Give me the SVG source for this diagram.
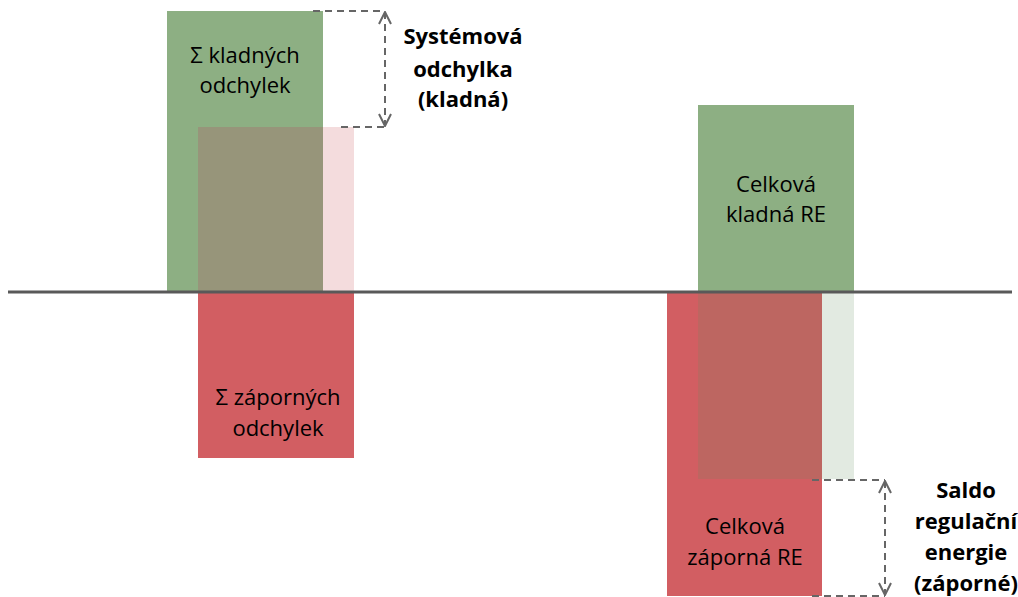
<svg xmlns="http://www.w3.org/2000/svg" width="1018" height="597" viewBox="0 0 1018 597">
<defs>
<style>
.lbl{font-family:"Open Sans","Liberation Sans",sans-serif;font-size:22px;fill:#000;text-anchor:middle}
.bold{font-family:"Open Sans","Liberation Sans",sans-serif;font-size:22px;font-weight:bold;fill:#000;text-anchor:middle}
.dash{stroke:#666;stroke-width:2;stroke-dasharray:7,5;fill:none}
.axis{stroke:#595959;stroke-width:3}
</style>
<marker id="arr" viewBox="0 0 14 14" refX="13" refY="7" markerWidth="14" markerHeight="14" markerUnits="userSpaceOnUse" orient="auto-start-reverse">
<path d="M1,1 L13,7 L1,13" fill="none" stroke="#666" stroke-width="2"/>
</marker>
</defs>
<rect width="1018" height="597" fill="#fff"/>
<g id="kladne-odchylky">
<rect x="167" y="11" width="156" height="281" fill="#8DAF83"/>
<text class="lbl" x="245" y="63">Σ kladných</text>
<text class="lbl" x="245" y="93">odchylek</text>
</g>
<g id="zaporne-odchylky">
<rect x="198" y="127" width="125" height="165" fill="#97957A"/>
<rect x="323" y="127" width="31" height="165" fill="#F4DCDD"/>
<rect x="198" y="292" width="156" height="166" fill="#D25E62"/>
<text class="lbl" x="278" y="405">Σ záporných</text>
<text class="lbl" x="278" y="436">odchylek</text>
</g>
<g id="celkova-kladna">
<rect x="698" y="105" width="156" height="187" fill="#8DAF83"/>
<text class="lbl" x="776" y="192">Celková</text>
<text class="lbl" x="776" y="222">kladná RE</text>
</g>
<g id="celkova-zaporna">
<rect x="667" y="292" width="155" height="304" fill="#D25E62"/>
<rect x="698" y="292" width="124" height="187" fill="#BD6661"/>
<rect x="822" y="292" width="32" height="187" fill="#E2EAE1"/>
<text class="lbl" x="745" y="534">Celková</text>
<text class="lbl" x="745" y="565">záporná RE</text>
</g>
<g id="axis">
<line class="axis" x1="8" y1="292" x2="1012" y2="292"/>
</g>
<g id="connectors">
<line class="dash" x1="313" y1="11" x2="385" y2="11"/>
<line class="dash" x1="341" y1="127" x2="385" y2="127"/>
<line class="dash" x1="385" y1="12" x2="385" y2="126" marker-start="url(#arr)" marker-end="url(#arr)"/>
<line class="dash" x1="812" y1="480" x2="885" y2="480"/>
<line class="dash" x1="812" y1="596" x2="885" y2="596"/>
<line class="dash" x1="885" y1="481" x2="885" y2="595" marker-start="url(#arr)" marker-end="url(#arr)"/>
</g>
<g id="label-systemova">
<text class="bold" x="463" y="44">Systémová</text>
<text class="bold" x="463" y="77">odchylka</text>
<text class="bold" x="463" y="107">(kladná)</text>
</g>
<g id="label-saldo">
<text class="bold" x="966" y="498">Saldo</text>
<text class="bold" x="966" y="529">regulační</text>
<text class="bold" x="966" y="560">energie</text>
<text class="bold" x="966" y="591">(záporné)</text>
</g>
</svg>
